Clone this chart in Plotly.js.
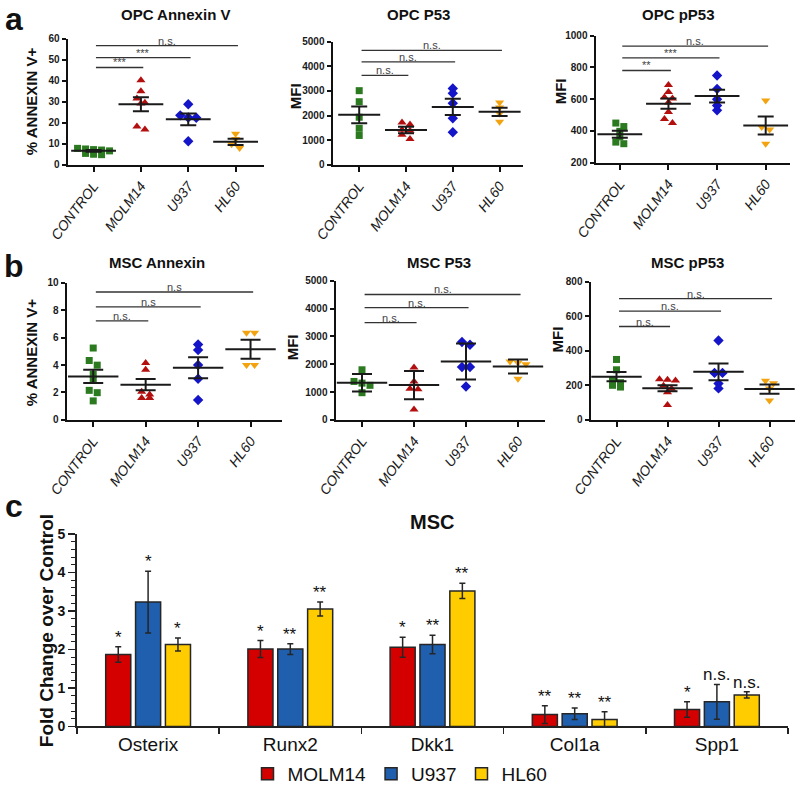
<!DOCTYPE html>
<html><head><meta charset="utf-8">
<script src="https://cdn.plot.ly/plotly-3.0.1.min.js"></script>
<style>body{margin:0;background:#fff}#chart{width:800px;height:793px}</style>
</head><body><div id="chart"></div>
<script>
const groups = ['CONTROL', 'MOLM14', 'U937', 'HL60'];

// a: OPC Annexin V
const opcAnnexinControl = [7.8, 7.5, 7.2, 7.0, 6.6, 5.4, 5.0, 4.8];
const opcAnnexinMolm14 = [40.2, 35.0, 31.5, 29.5, 29.2, 18.2, 16.8];
const opcAnnexinU937 = [28.8, 23.5, 22.5, 22.4, 11.2];
const opcAnnexinHl60 = [14.8, 12.3, 9.8, 8.0];
const opcAnnexinMean = [6.6, 28.8, 21.6, 10.9];
const opcAnnexinSem = [0.45, 3.3, 2.85, 1.5];
const opcAnnexinSigY = [46.3, 51.0, 56.7];
const opcAnnexinSig = ['***', '***', 'n.s.'];

// a: OPC P53
const opcP53Control = [3010, 2560, 1930, 1480, 1190];
const opcP53Molm14 = [1720, 1630, 1420, 1380, 1220, 1050];
const opcP53U937 = [3100, 2900, 2500, 1890, 1320];
const opcP53Hl60 = [2530, 2330, 2080, 1750];
const opcP53Mean = [2030, 1410, 2350, 2150];
const opcP53Sem = [340, 135, 330, 165];
const opcP53SigY = [3630, 4180, 4650];
const opcP53Sig = ['n.s.', 'n.s.', 'n.s.'];

// a: OPC pP53
const opcPP53Control = [450, 428, 398, 363, 330, 320];
const opcPP53Molm14 = [690, 645, 612, 605, 580, 520, 475, 450];
const opcPP53U937 = [750, 665, 600, 560, 530];
const opcPP53Hl60 = [592, 425, 410, 320];
const opcPP53Mean = [380, 572, 620, 435];
const opcPP53Sem = [22, 32, 40, 57];
const opcPP53SigY = [781, 860, 935];
const opcPP53Sig = ['**', '***', 'n.s.'];

// b: MSC Annexin
const mscAnnexinControl = [5.24, 4.33, 3.99, 3.31, 2.88, 2.15, 1.98, 1.38];
const mscAnnexinMolm14 = [4.15, 3.65, 2.05, 1.85, 1.6, 1.6];
const mscAnnexinU937 = [5.5, 5.1, 4.0, 3.0, 1.45];
const mscAnnexinHl60 = [6.35, 6.35, 4.0, 4.0];
const mscAnnexinMean = [3.17, 2.56, 3.8, 5.15];
const mscAnnexinSem = [0.48, 0.41, 0.77, 0.7];
const mscAnnexinSigY = [7.22, 8.24, 9.33];
const mscAnnexinSig = ['n.s.', 'n.s', 'n.s'];

// b: MSC P53
const mscP53Control = [1800, 1380, 1320, 1240, 975];
const mscP53Molm14 = [1880, 1380, 1120, 1100, 370];
const mscP53U937 = [2800, 2700, 1900, 1900, 1200];
const mscP53Hl60 = [2100, 2050, 2000, 1480];
const mscP53Mean = [1335, 1250, 2100, 1920];
const mscP53Sem = [315, 510, 650, 250];
const mscP53SigY = [3500, 4035, 4510];
const mscP53Sig = ['n.s.', 'n.s.', 'n.s.'];

// b: MSC pP53
const mscPP53Control = [350, 290, 233, 215, 200, 190];
const mscPP53Molm14 = [235, 232, 228, 198, 180, 160, 86];
const mscPP53U937 = [460, 272, 272, 210, 182];
const mscPP53Hl60 = [226, 212, 182, 112];
const mscPP53Mean = [250, 183, 278, 178];
const mscPP53Sem = [27, 18, 48, 27];
const mscPP53SigY = [541, 630, 703];
const mscPP53Sig = ['n.s.', 'n.s.', 'n.s.'];

// c: MSC fold change
const genes = ['Osterix', 'Runx2', 'Dkk1', 'Col1a', 'Spp1'];
const seriesNames = ['MOLM14', 'U937', 'HL60'];
const molm14Fold = [1.87, 2.01, 2.06, 0.31, 0.44];
const molm14Err = [0.2, 0.22, 0.26, 0.23, 0.2];
const u937Fold = [3.23, 2.01, 2.13, 0.33, 0.64];
const u937Err = [0.8, 0.14, 0.24, 0.15, 0.45];
const hl60Fold = [2.13, 3.05, 3.52, 0.18, 0.82];
const hl60Err = [0.17, 0.18, 0.2, 0.2, 0.08];
const molm14Sig = ['*', '*', '*', '**', '*'];
const u937Sig = ['*', '**', '**', '**', 'n.s.'];
const hl60Sig = ['*', '**', '**', '**', 'n.s.'];

// ---------- drawing ----------
const W = 800, H = 793;
const FONT = 'Arial, "Liberation Sans", sans-serif';
const INK = '#111';
const dotColors = ['#2b7a1f', '#b30f0f', '#1414c8', '#f2a30f'];
const dotSymbols = ['square', 'triangle-up', 'diamond', 'triangle-down'];
const barColors = ['#d40000', '#1f5fae', '#ffcc00'];

const xd = (a, b) => [a / W, b / W];
const yd = (top, bottom) => [1 - bottom / H, 1 - top / H];

const traces = [];
const annotations = [];
const layout = {
  width: W, height: H, margin: {l: 0, r: 0, t: 0, b: 0},
  paper_bgcolor: '#fff', plot_bgcolor: 'rgba(0,0,0,0)',
  font: {family: FONT, color: INK},
  showlegend: true,
  barmode: 'group', bargap: 0.37, bargroupgap: 0.16,
  legend: {orientation: 'h', x: 0.5, xanchor: 'center', y: 1 - 780 / H, yanchor: 'middle',
           font: {size: 19, family: FONT, color: INK}, itemwidth: 30, bgcolor: 'rgba(0,0,0,0)'},
  annotations: annotations
};

function swarm(vals, pxY, pxX, d) {
  const idx = vals.map((v, i) => i).sort((a, b) => vals[b] - vals[a]);
  const off = new Array(vals.length).fill(0);
  let row = [], start = null;
  const flush = () => { row.forEach((id, j) => { off[id] = (j - (row.length - 1) / 2) * d / pxX; }); row = []; };
  idx.forEach(id => {
    const py = vals[id] * pxY;
    if (start === null || start - py >= 0.6 * d) { flush(); start = py; }
    row.push(id);
  });
  flush();
  return off;
}

function text(x, y, t, size, opts) {
  annotations.push(Object.assign({xref: 'paper', yref: 'paper', x: x / W, y: 1 - y / H, text: t,
    showarrow: false, xanchor: 'center', yanchor: 'middle', font: {size: size, family: FONT, color: INK, weight: 'bold'}}, opts || {}));
}

const panels = [
  {pts: [opcAnnexinControl, opcAnnexinMolm14, opcAnnexinU937, opcAnnexinHl60], mean: opcAnnexinMean, err: opcAnnexinSem, sigY: opcAnnexinSigY, sig: opcAnnexinSig,
   px: [68, 264], py: [39, 166], yr: [0, 60], dtick: 10, xr: [-0.54, 3.6], title: 'OPC Annexin V', tpos: [175, 15], ytitle: '% ANNEXIN V+', ypos: [31, 102], meanW: 32, capW: 8},
  {pts: [opcP53Control, opcP53Molm14, opcP53U937, opcP53Hl60], mean: opcP53Mean, err: opcP53Sem, sigY: opcP53SigY, sig: opcP53Sig,
   px: [333, 523], py: [42, 166], yr: [0, 5000], dtick: 1000, xr: [-0.56, 3.5], title: 'OPC P53', tpos: [418, 15], ytitle: 'MFI', ypos: [295, 97], meanW: 30, capW: 8},
  {pts: [opcPP53Control, opcPP53Molm14, opcPP53U937, opcPP53Hl60], mean: opcPP53Mean, err: opcPP53Sem, sigY: opcPP53SigY, sig: opcPP53Sig,
   px: [596, 790], py: [36, 164], yr: [200, 1000], dtick: 200, xr: [-0.49, 3.5], title: 'OPC pP53', tpos: [678, 15], ytitle: 'MFI', ypos: [560, 92], meanW: 32, capW: 8},
  {pts: [mscAnnexinControl, mscAnnexinMolm14, mscAnnexinU937, mscAnnexinHl60], mean: mscAnnexinMean, err: mscAnnexinSem, sigY: mscAnnexinSigY, sig: mscAnnexinSig,
   px: [67, 282], py: [285, 423], yr: [0, 10], dtick: 2, xr: [-0.5, 3.6], title: 'MSC Annexin', tpos: [157, 264], ytitle: '% ANNEXIN V+', ypos: [31, 355], meanW: 36, capW: 10},
  {pts: [mscP53Control, mscP53Molm14, mscP53U937, mscP53Hl60], mean: mscP53Mean, err: mscP53Sem, sigY: mscP53SigY, sig: mscP53Sig,
   px: [336, 545], py: [283, 423], yr: [0, 5000], dtick: 1000, xr: [-0.5, 3.52], title: 'MSC P53', tpos: [439, 264], ytitle: 'MFI', ypos: [292, 350], meanW: 36, capW: 10},
  {pts: [mscPP53Control, mscPP53Molm14, mscPP53U937, mscPP53Hl60], mean: mscPP53Mean, err: mscPP53Sem, sigY: mscPP53SigY, sig: mscPP53Sig,
   px: [591, 795], py: [284, 423], yr: [0, 800], dtick: 200, xr: [-0.5, 3.5], title: 'MSC pP53', tpos: [687, 264], ytitle: 'MFI', ypos: [557, 342], meanW: 36, capW: 10}
];

panels.forEach((p, n) => {
  const i = n + 1;
  const xa = i === 1 ? 'x' : 'x' + i, ya = i === 1 ? 'y' : 'y' + i;
  const xk = i === 1 ? 'xaxis' : 'xaxis' + i, yk = i === 1 ? 'yaxis' : 'yaxis' + i;
  const pxY = (p.py[1] - p.py[0]) / (p.yr[1] - p.yr[0]);
  const pxX = (p.px[1] - p.px[0]) / (p.xr[1] - p.xr[0]);
  p.pts.forEach((vals, g) => {
    const off = swarm(vals, pxY, pxX, 8);
    traces.push({type: 'scatter', mode: 'markers', x: vals.map((v, j) => g + off[j]), y: vals, xaxis: xa, yaxis: ya,
      marker: {symbol: dotSymbols[g], size: g === 0 ? 7 : 8, color: dotColors[g], line: {width: 0}},
      showlegend: false, hoverinfo: 'skip', cliponaxis: false});
  });
  traces.push({type: 'scatter', mode: 'markers', x: [0, 1, 2, 3], y: p.mean, xaxis: xa, yaxis: ya,
    marker: {symbol: 'line-ew', size: p.meanW, color: '#1a1a1a', line: {color: '#1a1a1a', width: 2}},
    error_y: {type: 'data', array: p.err, width: p.capW, thickness: 2, color: '#1a1a1a'},
    showlegend: false, hoverinfo: 'skip'});
  p.sigY.forEach((lv, k) => {
    traces.push({type: 'scatter', mode: 'lines', x: [0.05, k + 1.05], y: [lv, lv], xaxis: xa, yaxis: ya,
      line: {color: '#333', width: 1.3}, showlegend: false, hoverinfo: 'skip'});
    annotations.push({xref: xa, yref: ya, x: (k + 1) / 2 + 0.05, y: lv, text: p.sig[k], showarrow: false,
      yanchor: 'bottom', yshift: -3, font: {size: 11, color: '#444', family: FONT}});
  });
  layout[xk] = {domain: xd(p.px[0], p.px[1]), range: p.xr, anchor: ya, tickmode: 'array', tickvals: [0, 1, 2, 3], ticktext: groups,
    tickangle: -53, tickfont: {size: 14, style: 'italic', color: '#1a1a1a', family: FONT},
    showline: true, linewidth: 2.5, linecolor: INK, ticks: 'outside', ticklen: 5, tickwidth: 2, tickcolor: INK,
    showgrid: false, zeroline: false, fixedrange: true};
  layout[yk] = {domain: yd(p.py[0], p.py[1]), range: p.yr, anchor: xa, dtick: p.dtick, tick0: 0,
    tickfont: {size: 10, weight: 'bold', color: '#1a1a1a', family: FONT},
    showline: true, linewidth: 2.5, linecolor: INK, ticks: 'outside', ticklen: 4, tickwidth: 2, tickcolor: INK,
    showgrid: false, zeroline: false, fixedrange: true};
  text(p.tpos[0], p.tpos[1], p.title, 15);
  text(p.ypos[0], p.ypos[1], p.ytitle, 15, {textangle: -90});
});

// panel c
const foldSeries = [molm14Fold, u937Fold, hl60Fold];
const errSeries = [molm14Err, u937Err, hl60Err];
const sigSeries = [molm14Sig, u937Sig, hl60Sig];
const cX = [77, 788], cY = [538, 732];
foldSeries.forEach((vals, s) => {
  traces.push({type: 'bar', name: seriesNames[s], x: genes, y: vals, xaxis: 'x7', yaxis: 'y7',
    marker: {color: barColors[s], line: {color: '#262626', width: 1.5}},
    error_y: {type: 'data', array: errSeries[s], width: 3, thickness: 1.5, color: '#262626'},
    hoverinfo: 'skip'});
});
const catPx = (cX[1] - cX[0]) / genes.length;
const slotPx = catPx * (1 - layout.bargap) / 3;
foldSeries.forEach((vals, s) => {
  vals.forEach((v, g) => {
    annotations.push({xref: 'x7', yref: 'y7', x: genes[g], y: v + errSeries[s][g], xshift: (s - 1) * slotPx, yshift: -2,
      text: sigSeries[s][g], showarrow: false, yanchor: 'bottom',
      font: {size: 17, color: INK, family: FONT}});
  });
});
layout.xaxis7 = {domain: xd(cX[0], cX[1]), anchor: 'y7', type: 'category', tickson: 'boundaries',
  ticks: 'outside', ticklen: 6, tickwidth: 1.5, tickcolor: '#222',
  tickfont: {size: 19, color: INK, family: FONT}, showline: true, linewidth: 2, linecolor: '#222',
  showgrid: false, zeroline: false, fixedrange: true};
layout.yaxis7 = {domain: yd(cY[0], cY[1]), anchor: 'x7', range: [0, 5], dtick: 1, tick0: 0,
  ticks: 'outside', ticklen: 7, tickwidth: 1.5, tickcolor: '#222',
  minor: {dtick: 0.2, ticks: 'outside', ticklen: 4, tickwidth: 1, tickcolor: '#222'},
  tickfont: {size: 14, weight: 'bold', color: INK, family: FONT}, showline: true, linewidth: 2, linecolor: '#222',
  showgrid: false, zeroline: false, fixedrange: true};
text(432, 526, 'MSC', 20);
text(46, 636, 'Fold Change over Control', 19, {textangle: -90});

// panel letters
text(14, 0, 'a', 32, {yanchor: 'top', borderpad: 0});
text(14, 287, 'b', 32, {yanchor: 'bottom', borderpad: 0});
text(14, 529, 'c', 32, {yanchor: 'bottom', borderpad: 0});

Plotly.newPlot('chart', traces, layout, {displayModeBar: false, staticPlot: true});
</script>
</body></html>
